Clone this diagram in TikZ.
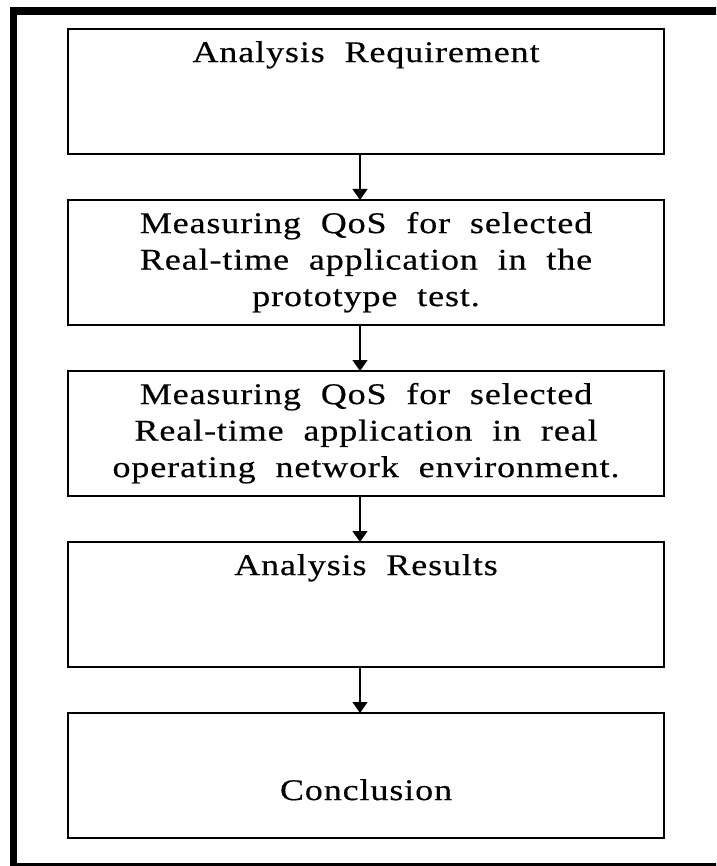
\documentclass[tikz,border=0pt]{standalone}
\usepackage{fontspec}
\setmainfont{Liberation Serif}[FakeStretch=1.2,LetterSpace=3,WordSpace=2,FakeBold=0.4]
\usetikzlibrary{positioning,arrows.meta}

\tikzset{
  stage/.style={draw, line width=1.3pt, minimum width=596pt, minimum height=125pt,
    inner sep=0pt, outer sep=0pt},
  flow/.style={line width=1.3pt, -{Triangle[width=15pt,length=11pt]}},
}
\newcommand{\stagetext}[2][0pt]{\parbox[c][110pt][t]{580pt}{\centering\vspace*{#1}\strut #2}}

\begin{document}
\begin{tikzpicture}[x=1pt,y=-1pt,font=\fontsize{30}{36.5}\selectfont,node distance=46pt]

\useasboundingbox (0,0) rectangle (716,866) ;
\clip (0,0) rectangle (716,866) ;

% outer frame, cut off on the right
\draw[line width=7.5pt] (730,11) -- (13.5,11) -- (13.5,867) -- (730,867) ;

\node[stage] (req) at (366,91.5) {\stagetext{Analysis Requirement}} ;
\node[stage, below=of req] (proto) {\stagetext{Measuring QoS for selected\\Real-time application in the\\prototype test.}} ;
\node[stage, below=of proto] (field) {\stagetext{Measuring QoS for selected\\Real-time application in real\\operating network environment.}} ;
\node[stage, below=of field] (results) {\stagetext{Analysis Results}} ;
\node[stage, below=of results] (concl) {\stagetext[54pt]{Conclusion}} ;

\foreach \a/\b in {req/proto, proto/field, field/results, results/concl}
  \draw[flow] ([xshift=-6pt]\a.south) -- ([xshift=-6pt]\b.north) ;

\end{tikzpicture}
\end{document}
